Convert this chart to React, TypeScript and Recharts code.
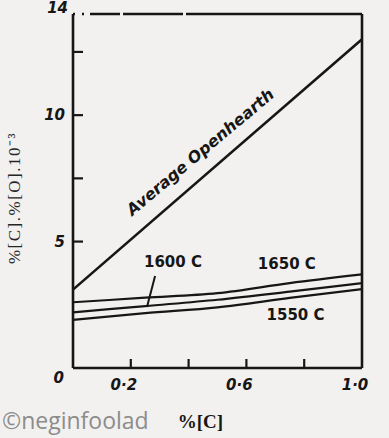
import React from 'react'
import { LineChart, Line, XAxis, YAxis, ReferenceLine, ReferenceDot } from 'recharts'

// carbon content grid for the temperature curves
const carbonPts = [0, 0.25, 0.5, 0.75, 1.0]
const temp1650 = [2.6, 2.78, 2.96, 3.36, 3.7]
const temp1600 = [2.2, 2.45, 2.7, 3.02, 3.36]
const temp1550 = [1.9, 2.17, 2.4, 2.77, 3.12]

// average open hearth practice (straight line)
const openhearthC = [0, 1.0]
const openhearthVal = [3.1, 13.0]

const xTicks = [0, 0.2, 0.4, 0.6, 0.8, 1.0]
const xTickLabels: Record<string, string> = { '0.2': '0·2', '0.6': '0·6', '1': '1·0' }
const yTicks = [0, 5, 7.5, 10, 12.5, 14]
const yTickLabels: Record<string, string> = { '0': '0', '5': '5', '10': '10', '14': '14' }

const toRows = (xs: number[], ys: number[]) => xs.map((c, i) => ({ c, v: ys[i] }))

const INK = '#161616'
const handFont = { fontFamily: 'DejaVu Sans', fontWeight: 700, fontStyle: 'italic' as const }

const YTick = (props: any) => {
  const { x, y, payload } = props
  const v = payload.value
  const label = yTickLabels[String(v)]
  const showLine = v > 0 && v < 14
  let dx = -8
  let dy = 0
  if (v === 0) { dx = -9; dy = 10 }
  if (v === 14) { dx = -5; dy = -6 }
  return (
    <g>
      {showLine && <line x1={x} x2={x + 10} y1={y} y2={y} stroke={INK} strokeWidth={2.2} />}
      {label && (
        <text x={x + dx} y={y + dy} textAnchor="end" dominantBaseline="central" fontSize={15} fill={INK} {...handFont}>
          {label}
        </text>
      )}
    </g>
  )
}

const XTick = (props: any) => {
  const { x, y, payload } = props
  const v = payload.value
  const label = xTickLabels[String(v)]
  const showLine = v > 0 && v < 1
  return (
    <g>
      {showLine && <line x1={x} x2={x} y1={y} y2={y - 9} stroke={INK} strokeWidth={2.2} />}
      {label && (
        <text x={x - 7} y={y + 17} textAnchor="middle" dominantBaseline="central" fontSize={15} fill={INK} {...handFont}>
          {label}
        </text>
      )}
    </g>
  )
}

const noteStyle = { fontFamily: 'DejaVu Sans', fontWeight: 700, fontSize: 15, fill: INK }

export default function App() {
  return (
    <div style={{ position: 'absolute', left: 0, top: 0, width: 389, height: 438, background: '#f2f1ef' }}>
      <LineChart width={389} height={438} margin={{ top: 14, right: 27, bottom: 0, left: 0 }}>
        <XAxis
          type="number"
          dataKey="c"
          domain={[0, 1]}
          ticks={xTicks}
          tickSize={0}
          tickMargin={0}
          tickLine={false}
          tick={XTick}
          height={70}
          axisLine={{ stroke: INK, strokeWidth: 2.6 }}
          label={{ value: '%[C]', position: 'center', dx: -17, dy: 18, fontFamily: 'Liberation Serif', fontWeight: 700, fontSize: 19, fill: INK }}
          allowDataOverflow
        />
        <YAxis
          type="number"
          domain={[0, 14]}
          ticks={yTicks}
          tickSize={0}
          tickMargin={0}
          tickLine={false}
          tick={YTick}
          width={73}
          axisLine={{ stroke: INK, strokeWidth: 2.6 }}
          label={{ value: '%[C].%[O].10⁻³', angle: -90, position: 'center', dx: -23, dy: 7, fontFamily: 'Liberation Serif', fontSize: 17, letterSpacing: 1.5, fill: '#262626' }}
          allowDataOverflow
        />
        <ReferenceLine y={14} stroke={INK} strokeWidth={2.4} strokeDasharray="2 7 2 6 30 3 60 3 400" />
        <ReferenceLine x={1} stroke={INK} strokeWidth={2.6} />

        <Line data={toRows(openhearthC, openhearthVal)} dataKey="v" type="linear" stroke={INK} strokeWidth={2.6} dot={false} isAnimationActive={false} />
        <Line data={toRows(carbonPts, temp1650)} dataKey="v" type="monotone" stroke={INK} strokeWidth={2.2} dot={false} isAnimationActive={false} />
        <Line data={toRows(carbonPts, temp1600)} dataKey="v" type="monotone" stroke={INK} strokeWidth={2.2} dot={false} isAnimationActive={false} />
        <Line data={toRows(carbonPts, temp1550)} dataKey="v" type="monotone" stroke={INK} strokeWidth={2.2} dot={false} isAnimationActive={false} />

        <ReferenceLine segment={[{ x: 0.284, y: 3.64 }, { x: 0.256, y: 2.41 }]} stroke={INK} strokeWidth={2} />

        <ReferenceDot x={0.44} y={8.55} r={0} fill="none" stroke="none"
          label={{ value: 'Average Openhearth', position: 'center', angle: -40, fontFamily: 'DejaVu Sans', fontWeight: 700, fontStyle: 'italic', fontSize: 16, fill: INK }} />
        <ReferenceDot x={0.346} y={4.19} r={0} fill="none" stroke="none" label={{ value: '1600 C', position: 'center', ...noteStyle }} />
        <ReferenceDot x={0.74} y={4.11} r={0} fill="none" stroke="none" label={{ value: '1650 C', position: 'center', ...noteStyle }} />
        <ReferenceDot x={0.77} y={2.09} r={0} fill="none" stroke="none" label={{ value: '1550 C', position: 'center', ...noteStyle }} />
      </LineChart>
      <div style={{ position: 'absolute', left: 2, top: 405, fontFamily: 'Open Sans', fontSize: 23, color: '#8c8c8c', lineHeight: '30px' }}>
        ©neginfoolad
      </div>
    </div>
  )
}
